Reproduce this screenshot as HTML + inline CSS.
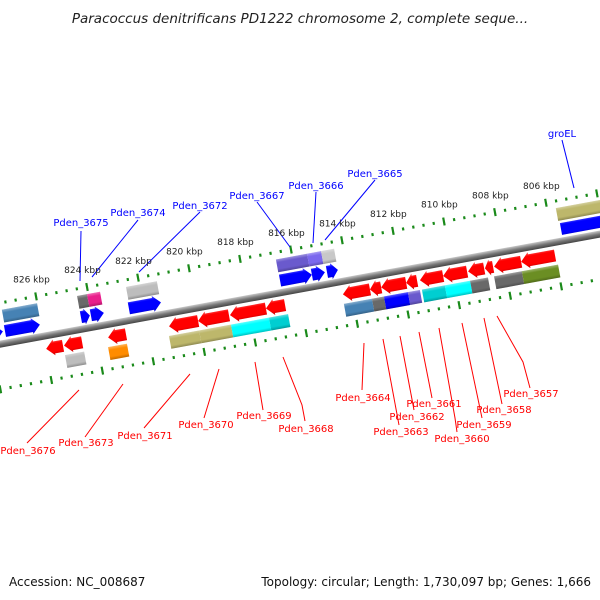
<!DOCTYPE html>
<html><head><meta charset="utf-8">
<style>
html,body{margin:0;padding:0;background:#fff;}
svg{display:block;font-family:"DejaVu Sans","Liberation Sans",sans-serif;}
</style></head>
<body>
<svg id="chart" width="600" height="600" viewBox="0 0 600 600">
<defs>
<linearGradient id="shade" x1="0" y1="0" x2="0" y2="1">
<stop offset="0" stop-color="#fff" stop-opacity="0.35"/>
<stop offset="0.25" stop-color="#fff" stop-opacity="0"/>
<stop offset="0.75" stop-color="#000" stop-opacity="0"/>
<stop offset="1" stop-color="#000" stop-opacity="0.25"/>
</linearGradient>
<linearGradient id="bb" x1="0" y1="0" x2="0" y2="1">
<stop offset="0" stop-color="#c8c8c8"/>
<stop offset="0.5" stop-color="#777"/>
<stop offset="1" stop-color="#444"/>
</linearGradient>
</defs>
<text x="300" y="23" text-anchor="middle" font-size="13.5" font-style="italic" fill="#222">Paracoccus denitrificans PD1222 chromosome 2, complete seque...</text>
<g id="track" transform="translate(87,287) rotate(-10.4)"></g>
<g id="callouts"></g>
<text x="9" y="586" font-size="12" fill="#111">Accession: NC_008687</text>
<text x="591" y="586" font-size="12" fill="#111" text-anchor="end">Topology: circular; Length: 1,730,097 bp; Genes: 1,666</text>
</svg>
<script>
// data (kbp)
const upperBoxStart = [827.39, 824.44, 824.05, 822.52, 816.64, 815.42, 814.87, 805.66];
const upperBoxEnd   = [826.01, 824.05, 823.54, 821.31, 815.42, 814.87, 814.36, 803.6];
const upperBoxColor = ['#4682b4','#696969','#e91e8c','#bdbdbd','#6a5acd','#7b68ee','#c8c8c8','#bdb76b'];
const upperArrowStart = [828.3, 827.42, 824.44, 824.05, 822.56, 816.63, 815.38, 814.79, 805.61];
const upperArrowEnd   = [827.5, 826.05, 824.09, 823.54, 821.30, 815.38, 814.87, 814.36, 803.6];
const lowerArrowStart = [825.98, 825.28, 823.55, 821.16, 820.02, 818.77, 817.36, 814.34, 813.28, 812.84, 811.86, 811.32, 810.41, 809.43, 808.77, 808.41, 807.35];
const lowerArrowEnd   = [825.32, 824.57, 822.85, 820.02, 818.81, 817.36, 816.61, 813.28, 812.84, 811.86, 811.43, 810.41, 809.47, 808.80, 808.45, 807.35, 806.02];
const lowerBoxStart = [825.31, 823.62, 821.23, 820.05, 818.80, 817.31, 814.37, 813.27, 812.80, 811.86, 811.31, 810.41, 809.42, 808.48, 807.39];
const lowerBoxEnd   = [824.56, 822.88, 820.05, 818.80, 817.31, 816.56, 813.27, 812.80, 811.86, 811.39, 810.41, 809.42, 808.72, 807.39, 805.97];
const lowerBoxColor = ['#bdbdbd','#ff8c00','#bdb76b','#bdb76b','#00ffff','#00ced1','#4682b4','#696969','#0000ff','#6a5acd','#00ced1','#00ffff','#696969','#696969','#6b8e23'];
const tickLabels = [826, 824, 822, 820, 818, 816, 814, 812, 810, 808, 806];

const topLabels = ['Pden_3675','Pden_3674','Pden_3672','Pden_3667','Pden_3666','Pden_3665','groEL'];
const bottomLabels = ['Pden_3676','Pden_3673','Pden_3671','Pden_3670','Pden_3669','Pden_3668','Pden_3664','Pden_3663','Pden_3662','Pden_3661','Pden_3660','Pden_3659','Pden_3658','Pden_3657'];

const NS='http://www.w3.org/2000/svg';
const PX=25.92, REF=824;
function lx(k){return (REF-k)*PX;}
const track=document.getElementById('track');
function mk(tag,attrs,parent){const e=document.createElementNS(NS,tag);for(const a in attrs)e.setAttribute(a,attrs[a]);(parent||track).appendChild(e);return e;}

function tickLine(y0, name){
  for(let k=830; k>=800; k-=0.4){
    const kk=Math.round(k*10)/10;
    const major=Math.abs(kk/2-Math.round(kk/2))<0.01;
    const x=lx(kk);
    const t=mk('line',{x1:x,x2:x,y1:y0-(major?4:1.5),y2:y0+(major?4:1.5),stroke:'#1a8a1a','stroke-width':2.2});
    
    
  }
}
tickLine(0,'upper');
tickLine(85,'lower');

const bbn=mk('rect',{x:-200,y:37,width:1000,height:7,fill:'url(#bb)'});



function box(s,e,y,h,c,name){
  const x1=lx(s),x2=lx(e);
  const r=mk('rect',{x:x1,y:y,width:x2-x1,height:h,fill:c});
  
  
  mk('rect',{x:x1,y:y,width:x2-x1,height:h,fill:'url(#shade)'});
}
function arrow(s,e,y,h,c,dir,name){
  const x1=lx(s),x2=lx(e),head=Math.min(8,(x2-x1)*0.6);
  let pts;
  if(dir>0) pts=[[x1,y],[x2-head,y],[x2-head,y-2],[x2,y+h/2],[x2-head,y+h+2],[x2-head,y+h],[x1,y+h]];
  else pts=[[x2,y],[x1+head,y],[x1+head,y-2],[x1,y+h/2],[x1+head,y+h+2],[x1+head,y+h],[x2,y+h]];
  const p=pts.map(q=>q.join(',')).join(' ');
  const g=mk('polygon',{points:p,fill:c});
  
  
  mk('polygon',{points:p,fill:'url(#shade)'});
}
upperBoxStart.forEach((s,i)=>box(s,upperBoxEnd[i],7,13,upperBoxColor[i],'upper-gene-category'));
upperArrowStart.forEach((s,i)=>arrow(s,upperArrowEnd[i],22.5,12,'#0000ff',1,'forward-gene'));
lowerArrowStart.forEach((s,i)=>arrow(s,lowerArrowEnd[i],47.5,12,'#ff0000',-1,'reverse-gene'));
lowerBoxStart.forEach((s,i)=>box(s,lowerBoxEnd[i],63,13,lowerBoxColor[i],'lower-gene-category'));

const ang=-10.4*Math.PI/180;
function toScreen(x,y){return [87+x*Math.cos(ang)-y*Math.sin(ang),287+x*Math.sin(ang)+y*Math.cos(ang)];}
const svg=document.getElementById('chart');
tickLabels.forEach(k=>{
  const p=toScreen(lx(k),-14);
  const t=document.createElementNS(NS,'text');
  t.setAttribute('x',p[0]-2);t.setAttribute('y',p[1]);
  t.setAttribute('font-size','9');t.setAttribute('fill','#222');t.setAttribute('text-anchor','middle');
  t.textContent=k+' kbp';
  
  
  svg.appendChild(t);
});

const topPos=[[81,226,[[81,231],[80,281]]],[138,216,[[138,220],[92,277]]],[200,209,[[200,212],[139,272]]],[257,199,[[257,202],[290,247]]],[316,189,[[316,192],[313,243]]],[375,177,[[375,180],[325,240]]],[562,137,[[562,140],[574,188]]]];
const botPos=[[28,454,[[79,390],[27,443]]],[86,446,[[123,384],[85,437]]],[145,439,[[190,374],[144,428]]],[206,428,[[219,369],[204,418]]],[264,419,[[255,362],[263,410]]],[306,432,[[283,357],[302,405],[305,421]]],[363,401,[[364,343],[362,390]]],[401,435,[[383,339],[399,425]]],[417,420,[[400,336],[414,410]]],[434,407,[[419,332],[432,398]]],[462,442,[[439,328],[455,418],[457,432]]],[484,428,[[462,323],[482,418]]],[504,413,[[484,318],[502,404]]],[531,397,[[497,316],[523,362],[530,388]]]];
const co=document.getElementById('callouts');
function callout(label,pos,color){
  const l=document.createElementNS(NS,'polyline');
  l.setAttribute('points',pos[2].map(q=>q.join(',')).join(' '));
  l.setAttribute('fill','none');l.setAttribute('stroke',color);l.setAttribute('stroke-width','1');
  
  
  co.appendChild(l);
  const t=document.createElementNS(NS,'text');
  t.setAttribute('x',pos[0]);t.setAttribute('y',pos[1]);
  t.setAttribute('font-size','10');t.setAttribute('fill',color);t.setAttribute('text-anchor','middle');
  t.textContent=label;
  
  
  co.appendChild(t);
}
topLabels.forEach((n,i)=>callout(n,topPos[i],'#0000ff'));
bottomLabels.forEach((n,i)=>callout(n,botPos[i],'#ff0000'));
</script>
</body></html>
